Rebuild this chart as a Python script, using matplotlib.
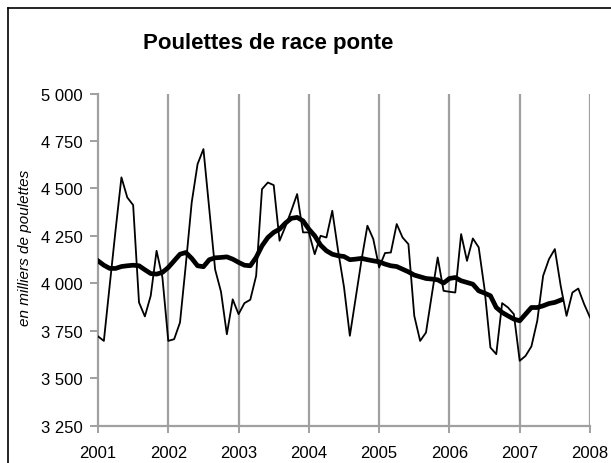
import numpy as np
import matplotlib
matplotlib.use("Agg")
import matplotlib.pyplot as plt
from matplotlib.lines import Line2D
from matplotlib.ticker import FuncFormatter

plt.rcParams['font.family'] = ['Liberation Sans', 'DejaVu Sans']

# monthly values, Jan 2001 -> Jan 2008 (thousands of pullets)
monthly = [3720, 3696, 3990, 4280, 4558, 4452, 4412, 3899, 3825, 3934, 4171, 4030,
           3696, 3705, 3793, 4100, 4426, 4628, 4707, 4390, 4072, 3955, 3731, 3915,
           3837, 3895, 3913, 4039, 4496, 4531, 4517, 4224, 4299, 4382, 4470, 4268,
           4268, 4153, 4250, 4241, 4382, 4170, 3980, 3723, 3923, 4124, 4303, 4233,
           4083, 4159, 4162, 4312, 4241, 4206, 3828, 3696, 3740, 3940, 4136, 3960,
           3955, 3951, 4259, 4118, 4236, 4189, 3969, 3661, 3626, 3895, 3872, 3837,
           3591, 3617, 3667, 3802, 4039, 4127, 4180, 3986, 3828, 3951, 3972, 3890,
           3820]

# smoothed trend, Jan 2001 -> Aug 2007
trend = [4118, 4095, 4078, 4078, 4088, 4092, 4095, 4092, 4071, 4051, 4048, 4057,
         4083, 4118, 4153, 4162, 4131, 4092, 4087, 4124, 4134, 4136, 4139, 4127,
         4110, 4095, 4092, 4136, 4197, 4241, 4268, 4285, 4317, 4342, 4347, 4329,
         4285, 4250, 4201, 4171, 4153, 4145, 4141, 4124, 4127, 4131, 4124, 4118,
         4113, 4101, 4092, 4088, 4074, 4060, 4043, 4034, 4025, 4022, 4018, 4001,
         4025, 4030, 4013, 4004, 3995, 3960, 3948, 3934, 3872, 3846, 3828, 3811,
         3802, 3837, 3872, 3872, 3881, 3893, 3899, 3911]

years = list(range(2001, 2009))
yticks = [3250, 3500, 3750, 4000, 4250, 4500, 4750, 5000]

x_month = 2001 + np.arange(len(monthly)) / 12
x_trend = 2001 + np.arange(len(trend)) / 12

fig = plt.figure(figsize=(6.11, 4.64), dpi=100)
ax = fig.add_axes([0.1604, 0.0808, 0.8052, 0.7155])

grey = '#a0a0a0'
for yr in years[1:]:
    ax.axvline(yr, color=grey, lw=1.6, zorder=1)

ax.plot(x_month, monthly, color='black', lw=1.3, zorder=3)
ax.plot(x_trend, trend, color='black', lw=3.4, zorder=4, solid_joinstyle='round')

ax.set_xlim(2001, 2008)
ax.set_ylim(3250, 5000)
ax.set_xticks(years)
ax.set_yticks(yticks)
ax.yaxis.set_major_formatter(FuncFormatter(lambda v, p: f"{int(v):,}".replace(',', ' ')))

for s in ['top', 'right']:
    ax.spines[s].set_visible(False)
for s in ['left', 'bottom']:
    ax.spines[s].set_color(grey)
    ax.spines[s].set_linewidth(1.6)

ax.tick_params(axis='y', direction='out', length=6, width=1.4, color=grey,
               labelsize=12, pad=5)
ax.tick_params(axis='x', direction='out', length=5, width=1.4, color=grey,
               labelsize=12, pad=9)

fig.text(0.041, 0.4655, 'en milliers de poulettes', rotation=90, style='italic',
         fontsize=11, ha='center', va='center')
fig.text(0.439, 0.907, 'Poulettes de race ponte', fontsize=16, fontweight='bold',
         ha='center', va='center')

# frame of the chart area (only left and top edges are visible)
fig.add_artist(Line2D([0.0131, 0.0131], [0.0, 0.9806], color='black', lw=1.2,
                      transform=fig.transFigure))
fig.add_artist(Line2D([0.0131, 1.0], [0.9806, 0.9806], color='black', lw=1.2,
                      transform=fig.transFigure))

fig.savefig('out.png', dpi=100)
